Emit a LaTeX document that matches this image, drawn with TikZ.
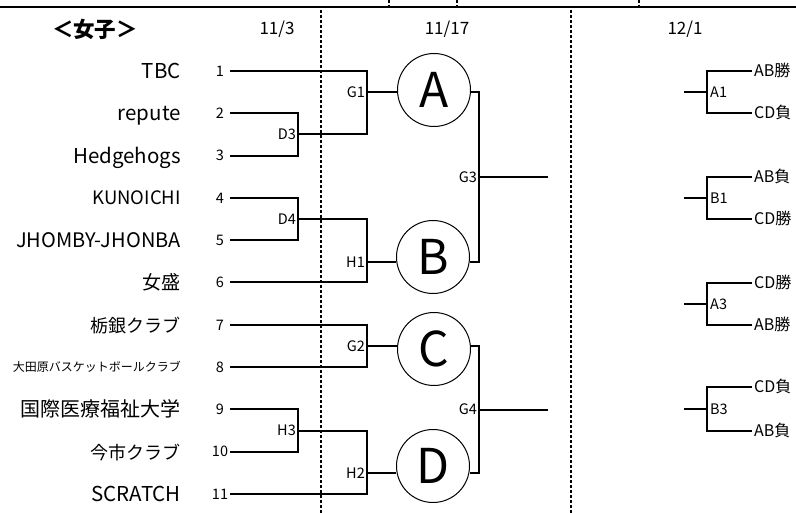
\documentclass[tikz,border=0pt]{standalone}
\usepackage{fontspec}
\setmainfont{Noto Sans CJK JP}
\usetikzlibrary{calc}

\begin{document}
\begin{tikzpicture}
	    [x=1pt, y=-1pt,
	    team/.style={anchor=east, inner sep=0pt, text height=15pt, text depth=0pt, font=\fontsize{20.5}{20.5}\selectfont},
	    seed/.style={minimum width=20pt, inner sep=0pt, text height=10.5pt, text depth=0pt, font=\fontsize{14.5}{14.5}\selectfont},
	    game/.style={anchor=east, inner sep=2pt, text height=10.5pt, text depth=0pt, font=\fontsize{14.5}{14.5}\selectfont},
	    pair/.style={anchor=west, inner sep=3pt, text height=10.5pt, text depth=0pt, font=\fontsize{14.5}{14.5}\selectfont},
	    slot/.style={anchor=west, inner sep=2pt, text height=11.7pt, text depth=0pt, font=\fontsize{16}{16}\selectfont},
	    pool/.style={circle, draw, line width=1pt, minimum size=73pt, inner sep=0pt, font=\fontsize{48}{48}\selectfont},
	    day/.style={font=\fontsize{17}{17}\selectfont},
	    wire/.style={line width=2pt},
	    split/.style={line width=1.8pt, dash pattern=on 3pt off 2pt}]
	     \useasboundingbox (0,0) rectangle (796,513);
	     % frame
	     \draw[wire] (0,7) -- (796,7);
	     \draw[split] (389,0) -- (389,7);
	     \draw[split] (457,0) -- (457,7);
	     \draw[split] (639,0) -- (639,7);
	     \draw[split] (321,10) -- (321,513);
	     \draw[split] (571,10) -- (571,513);
	     % header
	     \node[day, font=\bfseries\fontsize{21.5}{21.5}\selectfont] (ttl) at (95,29) {＜女子＞};
	     \node[day] (d1) at (277,29) {11/3};
	     \node[day] (d2) at (447,29) {11/17};
	     \node[day] (d3) at (685,29) {12/1};
	     % teams
	     \node[team] (t1) at (181,71)    {TBC};
	     \node[team] (t2) at (181,113.3) {repute};
	     \node[team] (t3) at (181,155.6) {Hedgehogs};
	     \node[team, text height=13.5pt, font=\fontsize{18.5}{18.5}\selectfont] (t4) at (181,197.9) {KUNOICHI};
	     \node[team, font=\fontsize{20}{20}\selectfont] (t5) at (181,240.2) {JHOMBY-JHONBA};
	     \node[team, font=\fontsize{19}{19}\selectfont] (t6) at (181,282.5) {女盛};
	     \node[team, font=\fontsize{18}{18}\selectfont] (t7) at (181,324.8) {栃銀クラブ};
	     \node[team, text height=9pt, font=\fontsize{12}{12}\selectfont] (t8) at (181,367.1) {大田原バスケットボールクラブ};
	     \node[team, font=\fontsize{20}{20}\selectfont] (t9) at (181,409.4) {国際医療福祉大学};
	     \node[team, font=\fontsize{18}{18}\selectfont] (t10) at (181,451.7) {今市クラブ};
	     \node[team] (t11) at (181,494)  {SCRATCH};
	     \node[seed] (s1) at (220,71)    {1};
	     \node[seed] (s2) at (220,113.3) {2};
	     \node[seed] (s3) at (220,155.6) {3};
	     \node[seed] (s4) at (220,197.9) {4};
	     \node[seed] (s5) at (220,240.2) {5};
	     \node[seed] (s6) at (220,282.5) {6};
	     \node[seed] (s7) at (220,324.8) {7};
	     \node[seed] (s8) at (220,367.1) {8};
	     \node[seed] (s9) at (220,409.4) {9};
	     \node[seed] (s10) at (220,451.7) {10};
	     \node[seed] (s11) at (220,494)  {11};
	     % games
	     \coordinate (D3) at (298,134.5);
	     \coordinate (D4) at (298,219);
	     \coordinate (H3) at (298,430.5);
	     \coordinate (G1) at (367,92);
	     \coordinate (H1) at (367,262);
	     \coordinate (G2) at (367,346);
	     \coordinate (H2) at (367,473);
	     \coordinate (G3) at (479,177);
	     \coordinate (G4) at (479,409.5);
	     \coordinate (W3) at (548,177);
	     \coordinate (W4) at (548,409.5);
	     \node[game] (D3l) at (D3) {D3};
	     \node[game] (D4l) at (D4) {D4};
	     \node[game] (H3l) at (H3) {H3};
	     \node[game] (G1l) at (G1) {G1};
	     \node[game] (H1l) at (H1) {H1};
	     \node[game] (G2l) at (G2) {G2};
	     \node[game] (H2l) at (H2) {H2};
	     \node[game] (G3l) at (G3) {G3};
	     \node[game] (G4l) at (G4) {G4};
	     % pools
	     \node[pool] (A) at (434,90)  {A};
	     \node[pool] (B) at (433,257) {B};
	     \node[pool] (C) at (434,349) {C};
	     \node[pool] (D) at (433,466) {D};
	     \draw[wire] (s2.east) -| (D3) |- (s3.east);
	     \draw[wire] (s4.east) -| (D4) |- (s5.east);
	     \draw[wire] (s9.east) -| (H3) |- (s10.east);
	     \draw[wire] (s1.east) -| (G1) |- (D3);
	     \draw[wire] (D4) -| (H1) |- (s6.east);
	     \draw[wire] (s7.east) -| (G2) |- (s8.east);
	     \draw[wire] (H3) -| (H2) |- (s11.east);
	     \draw[wire] (G1) -- (G1 -| A.west);
	     \draw[wire] (H1) -- (H1 -| B.west);
	     \draw[wire] (G2) -- (G2 -| C.west);
	     \draw[wire] (H2) -- (H2 -| D.west);
	     \draw[wire] (G1 -| A.east) -| (G3) |- (H1 -| B.east);
	     \draw[wire] (G2 -| C.east) -| (G4) |- (H2 -| D.east);
	     \draw[wire] (G3) -- (W3);
	     \draw[wire] (G4) -- (W4);
	     % 12/1
	     \coordinate (A1) at (707,92);
	     \coordinate (B1) at (707,198);
	     \coordinate (A3) at (707,304);
	     \coordinate (B3) at (707,409);
	     \coordinate (A1in) at (684,92);
	     \coordinate (B1in) at (684,198);
	     \coordinate (A3in) at (684,304);
	     \coordinate (B3in) at (684,409);
	     \node[slot] (A1w) at (752,71)  {AB勝};
	     \node[slot] (A1l) at (752,113) {CD負};
	     \node[slot] (B1w) at (752,177) {AB負};
	     \node[slot] (B1l) at (752,219) {CD勝};
	     \node[slot] (A3w) at (752,283) {CD勝};
	     \node[slot] (A3l) at (752,325) {AB勝};
	     \node[slot] (B3w) at (752,387) {CD負};
	     \node[slot] (B3l) at (752,431) {AB負};
	     \node[pair] (A1t) at (A1) {A1};
	     \node[pair] (B1t) at (B1) {B1};
	     \node[pair] (A3t) at (A3) {A3};
	     \node[pair] (B3t) at (B3) {B3};
	     \draw[wire] (A1w.west) -| (A1) |- (A1l.west);
	     \draw[wire] (B1w.west) -| (B1) |- (B1l.west);
	     \draw[wire] (A3w.west) -| (A3) |- (A3l.west);
	     \draw[wire] (B3w.west) -| (B3) |- (B3l.west);
	     \draw[wire] (A1in) -- (A1);
	     \draw[wire] (B1in) -- (B1);
	     \draw[wire] (A3in) -- (A3);
	     \draw[wire] (B3in) -- (B3);
	\end{tikzpicture}
\end{document}
